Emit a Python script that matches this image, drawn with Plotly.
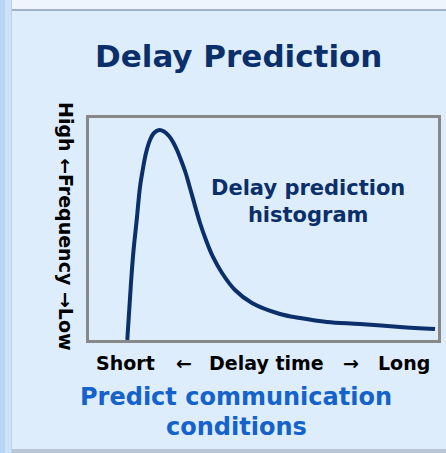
import plotly.graph_objects as go

W, H = 446, 453

# Curve values (x: delay time 0-100, y: relative frequency 0-100)
delay_x = [10.97, 11.95, 12.69, 13.67, 14.61, 15.39, 16.33, 17.48, 18.62, 20.14, 21.49, 22.92, 24.07, 25.21, 26.36, 27.79, 28.94, 31.81, 33.52, 35.53, 38.11, 41.83, 46.70, 54.73, 60.46, 68.19, 77.65, 89.11, 99.14]
freq_y = [0.0, 23.87, 39.19, 54.05, 68.92, 76.58, 84.23, 90.09, 93.24, 94.59, 93.92, 91.89, 89.19, 85.59, 81.08, 74.77, 68.47, 52.70, 45.05, 37.39, 30.18, 22.52, 16.67, 11.71, 9.91, 8.11, 7.21, 5.86, 4.95]

title_text = "Delay Prediction"
y_label = "High ←Frequency →Low"
x_labels = ["Short", "←", "Delay time", "→", "Long"]
x_label_px = [125.5, 183.5, 266.5, 350.5, 403.5]
curve_label = "Delay prediction<br>histogram"
footer = ["Predict communication", "conditions"]

NAVY = "#0b2f6b"
BLUE = "#1462cc"
PANEL = "#deedfb"
FONT = "DejaVu Sans"

def px(x):
    return x / W

def py(y):
    return 1 - y / H

fig = go.Figure()
fig.add_trace(go.Scatter(
    x=delay_x, y=freq_y, mode="lines",
    line=dict(color=NAVY, width=4, shape="spline", smoothing=1.0),
    hoverinfo="skip", showlegend=False,
))

shapes = [
    dict(type="rect", xref="paper", yref="paper", x0=0, x1=px(12), y0=0, y1=1,
         fillcolor="#b7d5f5", line_width=0, layer="below"),
    dict(type="rect", xref="paper", yref="paper", x0=px(5), x1=px(11), y0=0, y1=1,
         fillcolor="#cde2f8", line_width=0, layer="below"),
    dict(type="rect", xref="paper", yref="paper", x0=px(12), x1=1, y0=py(10), y1=1,
         fillcolor="#eef5fd", line_width=0, layer="below"),
    dict(type="line", xref="paper", yref="paper", x0=px(12), x1=1, y0=py(10), y1=py(10),
         line=dict(color="#9fb2c8", width=2), layer="below"),
    dict(type="rect", xref="paper", yref="paper", x0=px(12), x1=1, y0=0, y1=py(449),
         fillcolor="#b8c6d6", line_width=0, layer="below"),
]

annotations = [
    dict(text="<b>%s</b>" % title_text, x=px(238), y=py(56), font=dict(size=31, color=NAVY, family=FONT)),
    dict(text="<b>%s</b>" % y_label, x=px(66), y=py(226), textangle=90, font=dict(size=19, color="black", family=FONT)),
    dict(text="<b>%s</b>" % curve_label, x=px(307.5), y=py(201), font=dict(size=21, color=NAVY, family=FONT)),
    dict(text="<b>%s</b>" % footer[0], x=px(236), y=py(397), font=dict(size=24, color=BLUE, family=FONT)),
    dict(text="<b>%s</b>" % footer[1], x=px(236), y=py(427), font=dict(size=24, color=BLUE, family=FONT)),
]
for lab, xp in zip(x_labels, x_label_px):
    annotations.append(dict(text="<b>%s</b>" % lab, x=px(xp), y=py(363), font=dict(size=19, color="black", family=FONT)))
for a in annotations:
    a.update(xref="paper", yref="paper", showarrow=False, xanchor="center", yanchor="middle")

fig.update_layout(
    width=W, height=H,
    margin=dict(l=0, r=0, t=0, b=0),
    paper_bgcolor=PANEL, plot_bgcolor=PANEL,
    shapes=shapes, annotations=annotations,
    xaxis=dict(domain=[px(89), px(438)], range=[0, 100], showgrid=False, zeroline=False,
               showticklabels=False, ticks="", showline=True, mirror=True,
               linecolor="#888888", linewidth=2.5),
    yaxis=dict(domain=[py(340), py(118)], range=[0, 100], showgrid=False, zeroline=False,
               showticklabels=False, ticks="", showline=True, mirror=True,
               linecolor="#888888", linewidth=2.5),
)

fig.write_html("out.html", config={"displayModeBar": False},
               post_script="document.body.style.margin='0';document.body.style.overflow='hidden';")
